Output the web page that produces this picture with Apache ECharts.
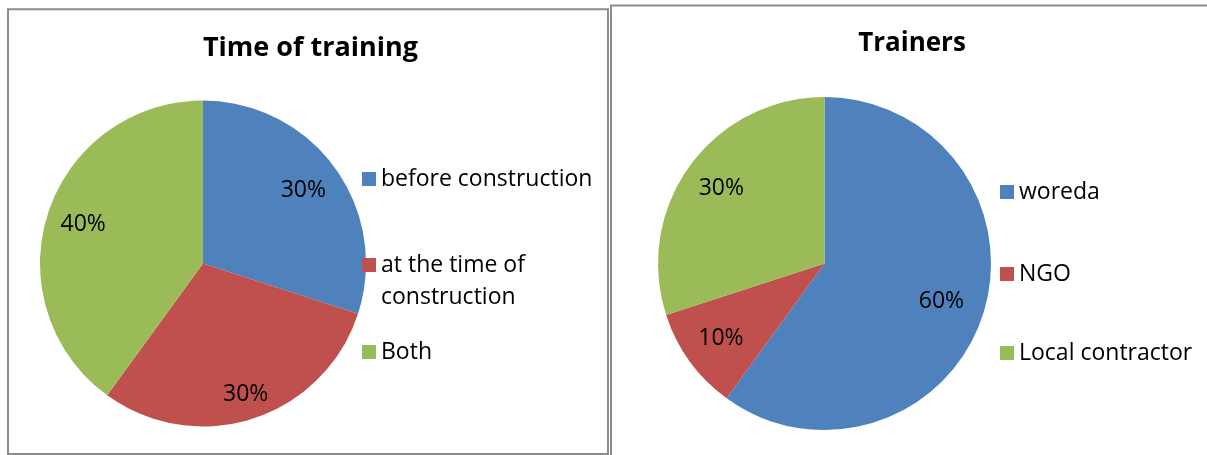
<!DOCTYPE html>
<html>
<head>
<meta charset="utf-8">
<script src="https://cdn.jsdelivr.net/npm/echarts@6/dist/echarts.min.js"></script>
<style>
  html, body { margin: 0; padding: 0; background: #fff; }
  #chart { width: 1207px; height: 455px; }
</style>
</head>
<body>
<div id="chart"></div>
<script>
// ---- data ----
const trainingTitle = 'Time of training';
const trainingCategories = ['before construction', 'at the time of construction', 'Both'];
const trainingValues = [30, 30, 40];

const trainersTitle = 'Trainers';
const trainerCategories = ['woreda', 'NGO', 'Local contractor'];
const trainerValues = [60, 10, 30];

// ---- style / layout ----
const colors = ['#4F81BD', '#C0504D', '#9BBB59'];
const FONT = 'Open Sans';
const TXT = 23;
const leftPie = { center: [203, 263.5], radius: 163, labelDist: [121, 135, 123] };
const rightPie = { center: [824.5, 263.5], radius: 166.5, labelDist: [120, 125, 124.5] };

function mainPie(cats, vals, cfg) {
  return {
    type: 'pie',
    center: cfg.center,
    radius: [0, cfg.radius],
    startAngle: 90,
    clockwise: true,
    silent: true,
    animation: false,
    label: { show: false },
    labelLine: { show: false },
    itemStyle: { borderWidth: 0 },
    emphasis: { disabled: true },
    data: cats.map((c, i) => ({ name: c, value: vals[i], itemStyle: { color: colors[i] } }))
  };
}

function labelPies(cats, vals, cfg) {
  return cats.map((_, k) => ({
    type: 'pie',
    center: cfg.center,
    radius: [cfg.labelDist[k] - 1, cfg.labelDist[k] + 1],
    startAngle: 90,
    clockwise: true,
    silent: true,
    animation: false,
    labelLine: { show: false },
    emphasis: { disabled: true },
    itemStyle: { color: 'transparent' },
    data: cats.map((c, i) => ({
      name: c,
      value: vals[i],
      itemStyle: { color: 'transparent' },
      label: {
        show: i === k,
        position: 'inside',
        formatter: '{c}%',
        color: '#000',
        fontFamily: FONT,
        fontSize: TXT
      }
    }))
  }));
}

const legendBase = {
  orient: 'vertical',
  icon: 'rect',
  itemWidth: 14,
  itemHeight: 14,
  itemGap: 0,
  padding: 0,
  selectedMode: false,
  textStyle: { fontFamily: FONT, fontSize: TXT, color: '#000', lineHeight: 32 }
};

const chart = echarts.init(document.getElementById('chart'), null, { renderer: 'canvas' });
chart.setOption({
  backgroundColor: '#fff',
  animation: false,
  title: [
    { text: trainingTitle, left: 310.5, top: 35, textAlign: 'center', padding: 0,
      textStyle: { fontFamily: FONT, fontWeight: 'bold', fontSize: 27, color: '#000' } },
    { text: trainersTitle, left: 912, top: 31, textAlign: 'center', padding: 0,
      textStyle: { fontFamily: FONT, fontWeight: 'bold', fontSize: 26, color: '#000' } }
  ],
  legend: [
    Object.assign({}, legendBase, { left: 362, top: 163, data: [trainingCategories[0]] }),
    Object.assign({}, legendBase, { left: 362, top: 217, data: [trainingCategories[1]],
      formatter: () => '\nat the time of\nconstruction' }),
    Object.assign({}, legendBase, { left: 362, top: 336, data: [trainingCategories[2]] }),
    Object.assign({}, legendBase, { left: 1000, top: 176, data: [trainerCategories[0]] }),
    Object.assign({}, legendBase, { left: 1000, top: 258, data: [trainerCategories[1]] }),
    Object.assign({}, legendBase, { left: 1000, top: 337, data: [trainerCategories[2]] })
  ],
  graphic: [
    { type: 'rect', z: -1, shape: { x: 8, y: 9.3, width: 600, height: 444.7 },
      style: { fill: 'none', stroke: '#8C8C8C', lineWidth: 2 }, silent: true },
    { type: 'rect', z: -1, shape: { x: 611, y: 5.5, width: 700, height: 500 },
      style: { fill: 'none', stroke: '#8C8C8C', lineWidth: 2 }, silent: true }
  ],
  series: [
    mainPie(trainingCategories, trainingValues, leftPie),
    mainPie(trainerCategories, trainerValues, rightPie)
  ].concat(
    labelPies(trainingCategories, trainingValues, leftPie),
    labelPies(trainerCategories, trainerValues, rightPie)
  )
});
</script>
</body>
</html>
